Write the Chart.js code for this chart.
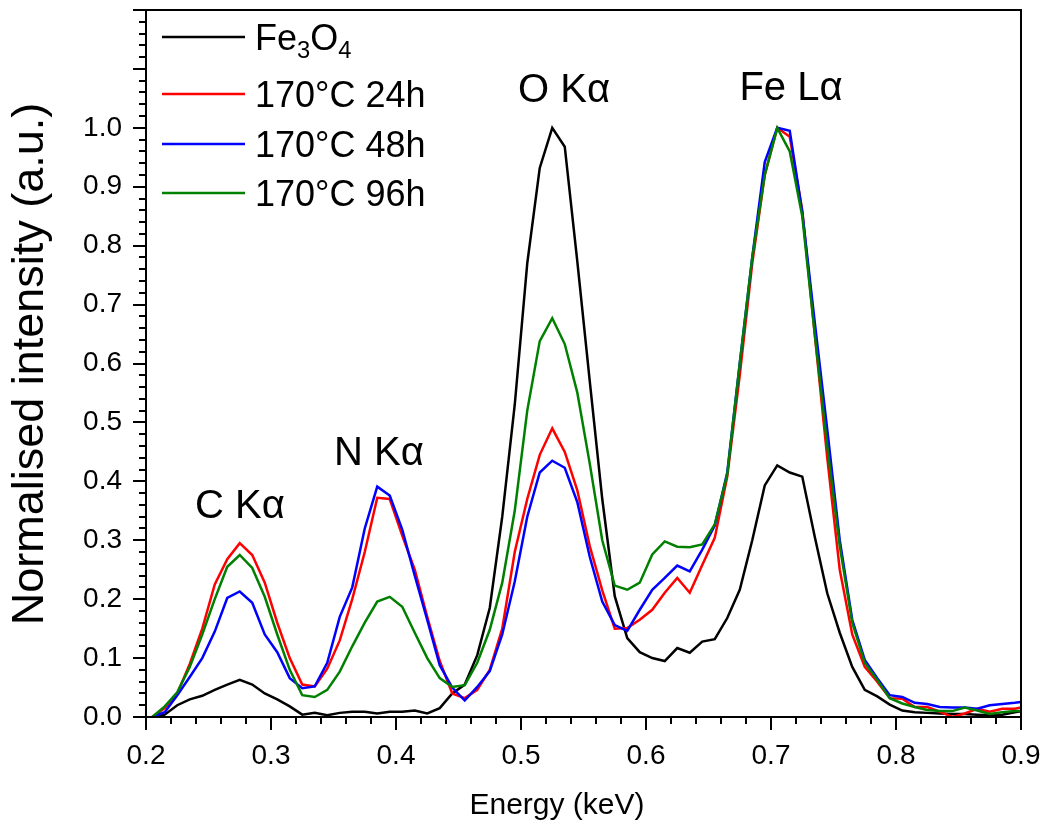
<!DOCTYPE html>
<html lang="en">
<head>
<meta charset="UTF-8">
<title>EDS spectra</title>
<script src="https://cdn.jsdelivr.net/npm/chart.js"></script>
<style>
    html, body { margin: 0; padding: 0; background: #fff; }
</style>
</head>
<body>
<canvas id="grafico" width="1047" height="829"></canvas>

<script>
    // energy channels (keV)
    const energia = [
        0.205, 0.215, 0.225, 0.235, 0.245, 0.255, 0.265, 0.275, 0.285, 0.295,
        0.305, 0.315, 0.325, 0.335, 0.345, 0.355, 0.365, 0.375, 0.385, 0.395,
        0.405, 0.415, 0.425, 0.435, 0.445, 0.455, 0.465, 0.475, 0.485, 0.495,
        0.505, 0.515, 0.525, 0.535, 0.545, 0.555, 0.565, 0.575, 0.585, 0.595,
        0.605, 0.615, 0.625, 0.635, 0.645, 0.655, 0.665, 0.675, 0.685, 0.695,
        0.705, 0.715, 0.725, 0.735, 0.745, 0.755, 0.765, 0.775, 0.785, 0.795,
        0.805, 0.815, 0.825, 0.835, 0.845, 0.855, 0.865, 0.875, 0.885, 0.895,
        0.905
    ];

    const fe3o4 = [
        0.000, 0.004, 0.020, 0.030, 0.036, 0.046, 0.055, 0.063, 0.055, 0.040,
        0.030, 0.018, 0.004, 0.007, 0.003, 0.007, 0.009, 0.009, 0.006, 0.009,
        0.009, 0.011, 0.006, 0.015, 0.040, 0.055, 0.105, 0.185, 0.340, 0.530,
        0.770, 0.932, 1.000, 0.968, 0.774, 0.570, 0.370, 0.205, 0.134, 0.110,
        0.100, 0.095, 0.117, 0.109, 0.128, 0.132, 0.168, 0.216, 0.300, 0.393,
        0.427, 0.415, 0.408, 0.306, 0.210, 0.143, 0.085, 0.046, 0.035, 0.021,
        0.011, 0.008, 0.007, 0.006, 0.005, 0.005, 0.004, 0.003, 0.004, 0.008,
        0.012
    ];

    const h24 = [
        0.000, 0.015, 0.040, 0.090, 0.150, 0.225, 0.268, 0.295, 0.275, 0.228,
        0.160, 0.100, 0.055, 0.052, 0.082, 0.130, 0.200, 0.280, 0.372, 0.370,
        0.308, 0.250, 0.170, 0.095, 0.040, 0.032, 0.046, 0.080, 0.150, 0.280,
        0.370, 0.445, 0.490, 0.450, 0.385, 0.290, 0.215, 0.150, 0.151, 0.165,
        0.182, 0.211, 0.236, 0.211, 0.258, 0.304, 0.408, 0.580, 0.770, 0.920,
        1.000, 0.985, 0.860, 0.650, 0.440, 0.250, 0.140, 0.085, 0.060, 0.032,
        0.031, 0.017, 0.017, 0.009, 0.000, 0.006, 0.014, 0.009, 0.014, 0.014,
        0.018
    ];

    const h48 = [
        0.000, 0.008, 0.037, 0.068, 0.100, 0.145, 0.202, 0.213, 0.194, 0.140,
        0.110, 0.066, 0.049, 0.052, 0.092, 0.170, 0.220, 0.320, 0.391, 0.376,
        0.318, 0.240, 0.165, 0.088, 0.050, 0.028, 0.051, 0.078, 0.140, 0.230,
        0.340, 0.415, 0.435, 0.423, 0.365, 0.272, 0.196, 0.156, 0.146, 0.182,
        0.216, 0.236, 0.257, 0.247, 0.284, 0.325, 0.415, 0.600, 0.780, 0.942,
        1.000, 0.995, 0.857, 0.670, 0.488, 0.300, 0.165, 0.097, 0.066, 0.037,
        0.034, 0.024, 0.022, 0.017, 0.016, 0.016, 0.014, 0.020, 0.022, 0.024,
        0.027
    ];

    const h96 = [
        0.000, 0.018, 0.042, 0.085, 0.140, 0.200, 0.255, 0.275, 0.253, 0.204,
        0.140, 0.080, 0.037, 0.034, 0.046, 0.077, 0.120, 0.160, 0.196, 0.204,
        0.187, 0.143, 0.100, 0.066, 0.051, 0.054, 0.092, 0.148, 0.228, 0.350,
        0.520, 0.638, 0.677, 0.633, 0.551, 0.430, 0.300, 0.223, 0.216, 0.228,
        0.276, 0.298, 0.289, 0.288, 0.293, 0.327, 0.412, 0.600, 0.780, 0.920,
        1.000, 0.960, 0.850, 0.650, 0.460, 0.290, 0.160, 0.092, 0.063, 0.032,
        0.023, 0.017, 0.012, 0.010, 0.010, 0.016, 0.011, 0.005, 0.008, 0.010,
        0.010
    ];

    const series = ['Fe3O4', '170°C 24h', '170°C 48h', '170°C 96h'];
    const cores = ['#000000', '#ff0000', '#0000ff', '#008000'];

    // peak annotations: [text, energy at text centre, intensity at text baseline]
    const picos = [
        ['C Kα', 0.2752, 0.338],
        ['N Kα', 0.3864, 0.427],
        ['O Kα', 0.5344, 1.043],
        ['Fe Lα', 0.716, 1.048]
    ];

    const fonte = '"Liberation Sans", Arial, sans-serif';

    function pontos(valores) {
        return energia.map((e, i) => ({ x: e, y: valores[i] }));
    }

    function texto(ctx, partes, x, y, tam) {
        // partes: [[string, subscript?], ...], drawn left to right from x
        let cx = x;
        partes.forEach(([s, sub]) => {
            ctx.font = (sub ? tam * 0.66 : tam) + 'px ' + fonte;
            ctx.fillText(s, cx, sub ? y + tam * 0.22 : y);
            cx += ctx.measureText(s).width;
        });
    }

    const decoracao = {
        id: 'decoracao',
        afterDraw(chart) {
            const { ctx, chartArea: a, scales: { x, y } } = chart;
            ctx.save();
            ctx.strokeStyle = '#000';
            ctx.fillStyle = '#000';
            ctx.lineWidth = 2;

            // frame
            ctx.strokeRect(a.left, a.top, a.right - a.left, a.bottom - a.top);

            // tick marks, major every 0.1 and minor every 0.02
            ctx.beginPath();
            for (let k = 0; k <= 35; k++) {
                const px = Math.round(x.getPixelForValue(0.2 + k * 0.02));
                ctx.moveTo(px, a.bottom);
                ctx.lineTo(px, a.bottom + (k % 5 === 0 ? 13 : 7));
            }
            for (let k = 0; k <= 60; k++) {
                const py = Math.round(y.getPixelForValue(k * 0.02));
                ctx.moveTo(a.left, py);
                ctx.lineTo(a.left - (k % 5 === 0 ? 13 : 7), py);
            }
            ctx.stroke();

            // axis titles
            ctx.textAlign = 'center';
            ctx.textBaseline = 'middle';
            ctx.font = '30px ' + fonte;
            ctx.fillText('Energy (keV)', 557, 806);
            ctx.save();
            ctx.translate(31, 364);
            ctx.rotate(-Math.PI / 2);
            ctx.font = '45px ' + fonte;
            ctx.fillText('Normalised intensity (a.u.)', 0, 0);
            ctx.restore();

            // peak labels
            ctx.textBaseline = 'alphabetic';
            ctx.font = '40px ' + fonte;
            picos.forEach(([t, e, v]) => {
                ctx.fillText(t, x.getPixelForValue(e), y.getPixelForValue(v));
            });

            // legend
            const linhasY = [37, 94, 144, 193];
            ctx.textAlign = 'left';
            chart.data.datasets.forEach((ds, i) => {
                const ly = linhasY[i];
                ctx.strokeStyle = ds.borderColor;
                ctx.lineWidth = 2.5;
                ctx.beginPath();
                ctx.moveTo(162, ly);
                ctx.lineTo(245, ly);
                ctx.stroke();
                const partes = i === 0
                    ? [['Fe', false], ['3', true], ['O', false], ['4', true]]
                    : [[ds.label, false]];
                texto(ctx, partes, 255, ly + 13, 36);
            });
            ctx.restore();
        }
    };

    const config = {
        type: 'line',
        data: {
            datasets: series.map((nome, i) => ({
                label: nome,
                data: pontos([fe3o4, h24, h48, h96][i]),
                borderColor: cores[i],
                borderWidth: 2.5,
                pointRadius: 0,
                tension: 0,
                fill: false,
                order: 4 - i
            }))
        },
        options: {
            responsive: false,
            animation: false,
            layout: { padding: { top: 10, right: 26, left: 10, bottom: 0 } },
            plugins: {
                legend: { display: false },
                tooltip: { enabled: false }
            },
            scales: {
                x: {
                    type: 'linear',
                    min: 0.2,
                    max: 0.9,
                    grid: { display: false, drawTicks: false },
                    border: { display: false },
                    ticks: {
                        stepSize: 0.1,
                        padding: 22,
                        color: '#000',
                        font: { family: fonte, size: 28 },
                        callback: v => v.toFixed(1)
                    },
                    afterFit: s => {
                        s.height = 112;
                        s.paddingLeft = 0;
                        s.paddingRight = 0;
                    }
                },
                y: {
                    min: 0,
                    max: 1.2,
                    grid: { display: false, drawTicks: false },
                    border: { display: false },
                    ticks: {
                        stepSize: 0.1,
                        padding: 24,
                        color: '#000',
                        font: { family: fonte, size: 28 },
                        callback: v => (v > 1.001 ? '' : v.toFixed(1))
                    },
                    afterFit: s => {
                        s.width = 136;
                        s.paddingTop = 0;
                        s.paddingBottom = 0;
                    }
                }
            }
        },
        plugins: [decoracao]
    };

    const grafico = new Chart(document.getElementById('grafico').getContext('2d'), config);
</script>
</body>
</html>
